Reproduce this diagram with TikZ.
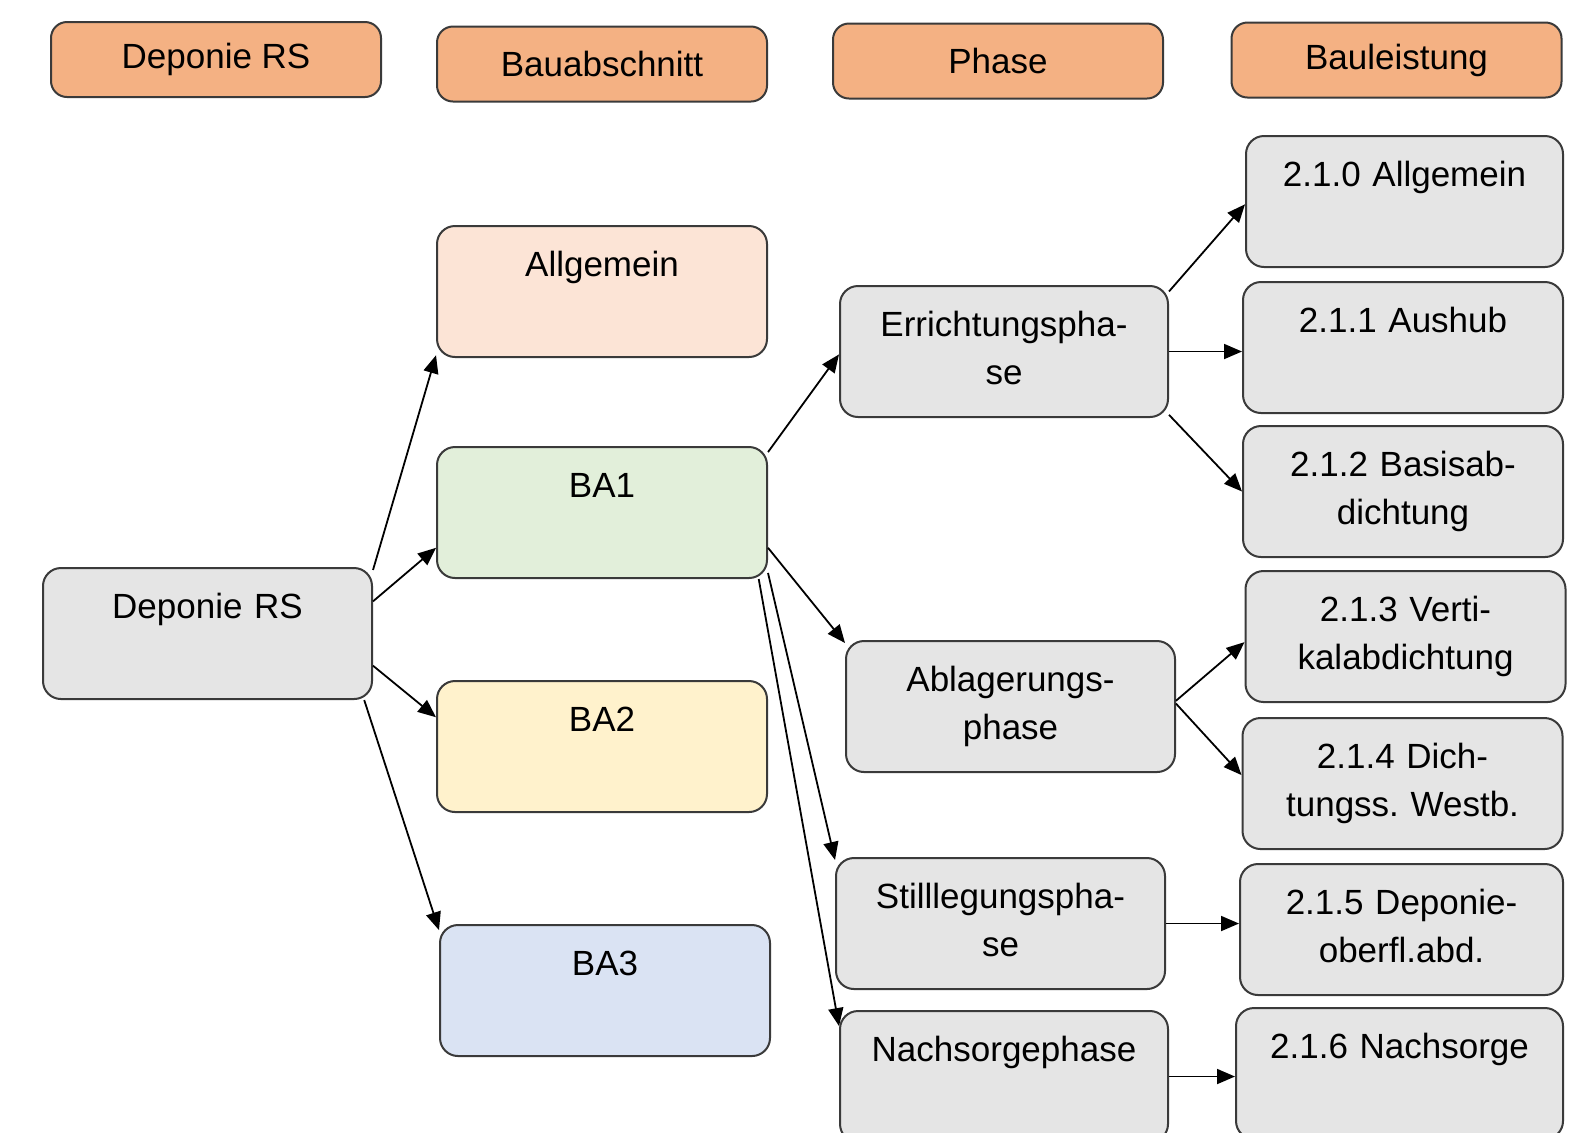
\documentclass[tikz,border=0pt]{standalone}
\usepackage{fontspec}
\setmainfont{Liberation Sans}
\frenchspacing
\definecolor{headorange}{HTML}{F4B183}
\definecolor{boxgrey}{HTML}{E5E5E5}
\definecolor{allgpeach}{HTML}{FCE4D6}
\definecolor{bagreen}{HTML}{E2EFDA}
\definecolor{bayellow}{HTML}{FFF2CC}
\definecolor{bablue}{HTML}{DAE3F3}
\definecolor{edgegrey}{HTML}{3A3A3A}
\usetikzlibrary{arrows.meta}
\tikzset{
  headbox/.style={draw=edgegrey, fill=headorange, line width=1pt, rounded corners=8pt, minimum width=165pt, minimum height=37.5pt, inner sep=0pt, font=\fontsize{17.5}{24}\selectfont},
  itembox/.style={draw=edgegrey, fill=boxgrey, line width=1pt, rounded corners=9pt, anchor=north, inner sep=0pt, text width=165pt, align=center, text height=25pt, text depth=40.5pt, font=\fontsize{17.5}{24}\selectfont},
  leistbox/.style={itembox, text width=160pt},
  link/.style={-{Triangle[length=9pt,width=7.5pt]}, line width=0.9pt}
}

\begin{document}
\begin{tikzpicture}[x=0.5pt, y=-0.5pt]
  \clip (0,0) rectangle (1577,1132);
  \fill[white] (0,0) rectangle (1577,1132);

  % Column heads
  \node[headbox] (hdeponie) at (216,59.5) {Deponie RS};
  \node[headbox] (habschnitt) at (602,64) {Bauabschnitt};
  \node[headbox] (hphase) at (998,61) {Phase};
  \node[headbox] (hleistung) at (1396.5,60) {Bauleistung};

  % Deponie and Bauabschnitte
  \node[itembox, text width=164.5pt] (deponie) at (207.5,567) {Deponie RS};
  \node[itembox, fill=allgpeach] (allgemein) at (602,225) {Allgemein};
  \node[itembox, fill=bagreen] (ba1) at (602,446) {BA1};
  \node[itembox, fill=bayellow] (ba2) at (602,680) {BA2};
  \node[itembox, fill=bablue] (ba3) at (605,924) {BA3};

  % Phasen
  \node[itembox, text width=164pt] (errichtung) at (1004,285) {Errichtungspha-\\se};
  \node[itembox, text width=164.5pt] (ablagerung) at (1010.5,640) {Ablagerungs-\\phase};
  \node[itembox, text width=164.5pt] (stilllegung) at (1000.5,857) {Stilllegungspha-\\se};
  \node[itembox, text width=164pt] (nachsorge) at (1004,1010) {Nachsorgephase};

  % Bauleistungen
  \node[leistbox, text width=158.5pt] (l210) at (1404.5,135) {2.1.0 Allgemein};
  \node[leistbox] (l211) at (1403,281) {2.1.1 Aushub};
  \node[leistbox] (l212) at (1403,425) {2.1.2 Basisab-\\dichtung};
  \node[leistbox] (l213) at (1405.5,570) {2.1.3 Verti-\\kalabdichtung};
  \node[leistbox] (l214) at (1402.5,717) {2.1.4 Dich-\\tungss. Westb.};
  \node[leistbox, text width=161.5pt] (l215) at (1401.5,863) {2.1.5 Deponie-\\oberfl.abd.};
  \node[leistbox, text width=163.5pt] (l216) at (1399.5,1007) {2.1.6 Nachsorge};

  % Connectors
  \draw[link] (deponie.21) -- (allgemein.201);
  \draw[link] (deponie.11) -- (ba1.192);
  \draw[link] (deponie.349) -- (ba2.170);
  \draw[link] (deponie.337) -- (ba3.160);

  \draw[link] (ba1.20) -- (errichtung.181);
  \draw[link] (ba1.348) -- (ablagerung.159);
  \draw[link] (ba1.340) -- (stilllegung.159);
  \draw[link] (ba1.337) -- (nachsorge.163);

  \draw[link] (errichtung.20) -- (l210.181);
  \draw[link] (errichtung.east) -- (errichtung.east -| l211.west);
  \draw[link] (errichtung.339) -- (l212.west);
  \draw[link] (ablagerung.2) -- (l213.182);
  \draw[link] (ablagerung.1) -- (l214.177);
  \draw[link] (stilllegung.east) -- (stilllegung.east -| l215.west);
  \draw[link] (nachsorge.east) -- (nachsorge.east -| l216.west);
\end{tikzpicture}
\end{document}
